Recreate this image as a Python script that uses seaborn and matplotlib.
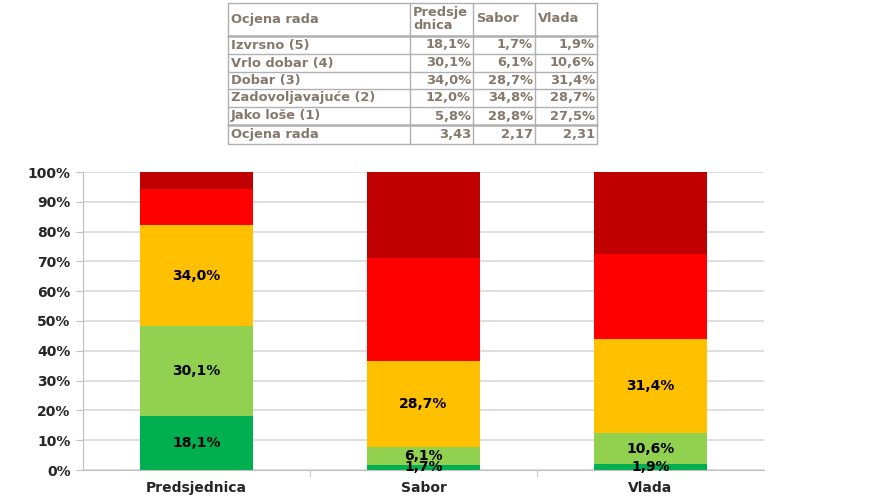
import matplotlib
matplotlib.use("Agg")
import matplotlib.pyplot as plt
import seaborn as sns
import numpy as np
import pandas as pd
from matplotlib.lines import Line2D
from matplotlib.ticker import PercentFormatter, FixedLocator

categories = ["Predsjednica", "Sabor", "Vlada"]
series_names = ["Izvrsno (5)", "Vrlo dobar (4)", "Dobar (3)", "Zadovoljavajuće (2)", "Jako loše (1)"]
izvrsno = [18.1, 1.7, 1.9]
vrlo_dobar = [30.1, 6.1, 10.6]
dobar = [34.0, 28.7, 31.4]
zadovoljavajuce = [12.0, 34.8, 28.7]
jako_lose = [5.8, 28.8, 27.5]
ocjena = ["3,43", "2,17", "2,31"]
table_header = ["Ocjena rada", "Predsje\ndnica", "Sabor", "Vlada"]
colors = ["#00B050", "#92D050", "#FFC000", "#FF0000", "#C00000"]
labeled = [True, True, True, False, False]

sns.set_style("white")
plt.rcParams['font.family'] = ['DejaVu Sans']

fig = plt.figure(figsize=(8.82, 4.96), dpi=100)
W, H = 882, 496
ax = fig.add_axes([83 / W, 1 - 470 / H, (764 - 83) / W, (470 - 172) / H])

series = [izvrsno, vrlo_dobar, dobar, zadovoljavajuce, jako_lose]
vals = np.array(series) / 100.0
cum = np.cumsum(vals, axis=0)

# draw from top (largest cumulative) down
for i in range(len(series) - 1, -1, -1):
    df = pd.DataFrame({"cat": categories, "val": cum[i]})
    sns.barplot(data=df, x="cat", y="val", color=colors[i], width=0.5,
                saturation=1, ax=ax, zorder=2, edgecolor="none", linewidth=0)

# labels
for i in range(len(series)):
    if not labeled[i]:
        continue
    for j, cat in enumerate(categories):
        bottom = cum[i][j] - vals[i][j]
        mid = bottom + vals[i][j] / 2
        txt = f"{series[i][j]:.1f}".replace(".", ",") + "%"
        ax.text(j, mid, txt, ha="center", va="center", fontsize=10,
                fontweight="bold", color="black", zorder=5)

ax.set_xlim(-0.5, 2.5)
ax.set_ylim(0, 1.0)
ax.yaxis.set_major_locator(FixedLocator(np.arange(0, 1.01, 0.1)))
ax.yaxis.set_major_formatter(PercentFormatter(1.0, decimals=0))
ax.grid(axis="y", color="#d9d9d9", linewidth=1.2, zorder=0)
ax.grid(axis="x", visible=False)
ax.set_axisbelow(True)
for s in ["top", "right"]:
    ax.spines[s].set_visible(False)
ax.spines["left"].set_color("#bfbfbf")
ax.spines["bottom"].set_color("#bfbfbf")
ax.spines["left"].set_zorder(1)
ax.set_xlabel("")
ax.set_ylabel("")
ax.tick_params(axis="y", which="major", length=5, color="#bfbfbf", left=True,
               labelsize=10, pad=4)
ax.set_xticks(range(len(categories)))
ax.set_xticklabels(categories)
ax.set_xticks([0.5, 1.5], minor=True)
ax.tick_params(axis="x", which="major", length=0, labelsize=10, pad=8)
ax.tick_params(axis="x", which="minor", length=5, color="#bfbfbf", bottom=True)
for lab in ax.get_yticklabels() + ax.get_xticklabels():
    lab.set_fontweight("bold")

# Table
tcol = "#85786c"
lcol = "#b0b0b0"
xs = [228, 410, 473, 535, 597]
ys = [3, 36, 54, 72, 89, 107, 125, 144]


def fx(x):
    return x / W


def fy(y):
    return 1 - y / H


for x in xs:
    fig.add_artist(Line2D([fx(x), fx(x)], [fy(ys[0]), fy(ys[-1])], color=lcol, lw=1))
for k, y in enumerate(ys):
    lw = 1.0
    if k in (1, 6):
        lw = 1.8
    fig.add_artist(Line2D([fx(xs[0]), fx(xs[-1])], [fy(y), fy(y)], color=lcol, lw=lw))

fs = 9.4
# header
fig.text(fx(231), fy(19), table_header[0], ha="left", va="center", fontsize=fs,
         fontweight="bold", color=tcol)
for c in range(1, 4):
    fig.text(fx(xs[c] + 3), fy(19), table_header[c], ha="left", va="center",
             fontsize=fs, fontweight="bold", color=tcol, linespacing=1.0)

rows = [(series_names[i], [f"{v:.1f}".replace(".", ",") + "%" for v in series[i]])
        for i in range(len(series))]
rows.append((table_header[0], ocjena))
for r, (name, cells) in enumerate(rows):
    yc = (ys[r + 1] + ys[r + 2]) / 2
    fig.text(fx(231), fy(yc), name, ha="left", va="center", fontsize=fs,
             fontweight="bold", color=tcol)
    for c, cell in enumerate(cells):
        fig.text(fx(xs[c + 2] - 2), fy(yc), cell, ha="right", va="center",
                 fontsize=fs, fontweight="bold", color=tcol)

fig.savefig("out.png", dpi=100)
